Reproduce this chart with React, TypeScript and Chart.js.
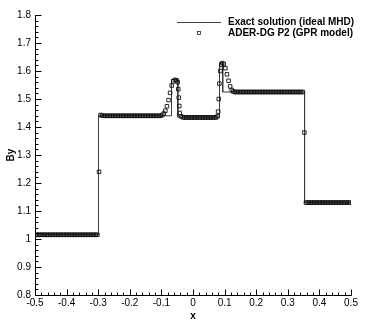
import React, { useEffect, useRef } from "react";
import { Chart, registerables } from "chart.js";
Chart.register(...registerables);

// Exact solution (ideal MHD): piecewise constant profile with jumps
const exactX = [-0.5, -0.299, -0.299, -0.068, -0.068, -0.048, -0.048, 0.084, 0.084, 0.094, 0.094, 0.353, 0.353, 0.5];
const exactY = [1.015, 1.015, 1.44, 1.44, 1.57, 1.57, 1.435, 1.435, 1.63, 1.63, 1.525, 1.525, 1.13, 1.13];

// ADER-DG P2 (GPR model) sample points
const dgX = [
  -0.4975, -0.4925, -0.4875, -0.4825, -0.4775, -0.4725, -0.4675, -0.4625, -0.4575, -0.4525,
  -0.4475, -0.4425, -0.4375, -0.4325, -0.4275, -0.4225, -0.4175, -0.4125, -0.4075, -0.4025,
  -0.3975, -0.3925, -0.3875, -0.3825, -0.3775, -0.3725, -0.3675, -0.3625, -0.3575, -0.3525,
  -0.3475, -0.3425, -0.3375, -0.3325, -0.3275, -0.3225, -0.3175, -0.3125, -0.3075, -0.3025,
  -0.2975,
  -0.2925, -0.2875, -0.2825, -0.2775, -0.2725, -0.2675, -0.2625, -0.2575, -0.2525, -0.2475,
  -0.2425, -0.2375, -0.2325, -0.2275, -0.2225, -0.2175, -0.2125, -0.2075, -0.2025, -0.1975,
  -0.1925, -0.1875, -0.1825, -0.1775, -0.1725, -0.1675, -0.1625, -0.1575, -0.1525, -0.1475,
  -0.1425, -0.1375, -0.1325, -0.1275, -0.1225, -0.1175, -0.1125, -0.1075, -0.1025,
  -0.0975, -0.0925, -0.0875, -0.0825, -0.0775, -0.0725, -0.0675, -0.0625, -0.0575, -0.0525,
  -0.0485, -0.0465, -0.045, -0.0435, -0.042, -0.0375, -0.0325,
  -0.0275, -0.0225, -0.0175, -0.0125, -0.0075, -0.0025, 0.0025, 0.0075, 0.0125, 0.0175,
  0.0225, 0.0275, 0.0325, 0.0375, 0.0425, 0.0475, 0.0525, 0.0575, 0.0625, 0.0675, 0.0725,
  0.0775, 0.0795, 0.0815, 0.0835, 0.0865, 0.0895, 0.0925, 0.0975, 0.1025, 0.1075,
  0.1125, 0.1175, 0.1225, 0.1275,
  0.1325, 0.1375, 0.1425, 0.1475, 0.1525, 0.1575, 0.1625, 0.1675, 0.1725, 0.1775,
  0.1825, 0.1875, 0.1925, 0.1975, 0.2025, 0.2075, 0.2125, 0.2175, 0.2225, 0.2275,
  0.2325, 0.2375, 0.2425, 0.2475, 0.2525, 0.2575, 0.2625, 0.2675, 0.2725, 0.2775,
  0.2825, 0.2875, 0.2925, 0.2975, 0.3025, 0.3075, 0.3125, 0.3175, 0.3225, 0.3275,
  0.3325, 0.3375, 0.3425, 0.3475,
  0.3525,
  0.3575, 0.3625, 0.3675, 0.3725, 0.3775, 0.3825, 0.3875, 0.3925, 0.3975, 0.4025,
  0.4075, 0.4125, 0.4175, 0.4225, 0.4275, 0.4325, 0.4375, 0.4425, 0.4475, 0.4525,
  0.4575, 0.4625, 0.4675, 0.4725, 0.4775, 0.4825, 0.4875, 0.4925, 0.4975,
];
const dgY = [
  1.015, 1.015, 1.015, 1.015, 1.015, 1.015, 1.015, 1.015, 1.015, 1.015,
  1.015, 1.015, 1.015, 1.015, 1.015, 1.015, 1.015, 1.015, 1.015, 1.015,
  1.015, 1.015, 1.015, 1.015, 1.015, 1.015, 1.015, 1.015, 1.015, 1.015,
  1.015, 1.015, 1.015, 1.015, 1.015, 1.015, 1.015, 1.015, 1.015, 1.015,
  1.24,
  1.443, 1.441, 1.44, 1.44, 1.44, 1.44, 1.44, 1.44, 1.44, 1.44,
  1.44, 1.44, 1.44, 1.44, 1.44, 1.44, 1.44, 1.44, 1.44, 1.44,
  1.44, 1.44, 1.44, 1.44, 1.44, 1.44, 1.44, 1.44, 1.44, 1.44,
  1.44, 1.44, 1.44, 1.44, 1.44, 1.44, 1.44, 1.44, 1.44,
  1.443, 1.448, 1.458, 1.474, 1.496, 1.522, 1.548, 1.563, 1.568, 1.567,
  1.56, 1.535, 1.505, 1.475, 1.45, 1.438, 1.435,
  1.434, 1.434, 1.434, 1.434, 1.434, 1.434, 1.434, 1.434, 1.434, 1.434,
  1.434, 1.434, 1.434, 1.434, 1.434, 1.434, 1.434, 1.434, 1.434, 1.434, 1.434,
  1.438, 1.455, 1.5, 1.555, 1.6, 1.622, 1.628, 1.625, 1.61, 1.588,
  1.565, 1.545, 1.532, 1.527,
  1.525, 1.525, 1.525, 1.525, 1.525, 1.525, 1.525, 1.525, 1.525, 1.525,
  1.525, 1.525, 1.525, 1.525, 1.525, 1.525, 1.525, 1.525, 1.525, 1.525,
  1.525, 1.525, 1.525, 1.525, 1.525, 1.525, 1.525, 1.525, 1.525, 1.525,
  1.525, 1.525, 1.525, 1.525, 1.525, 1.525, 1.525, 1.525, 1.525, 1.525,
  1.525, 1.525, 1.525, 1.525,
  1.38,
  1.13, 1.13, 1.13, 1.13, 1.13, 1.13, 1.13, 1.13, 1.13, 1.13,
  1.13, 1.13, 1.13, 1.13, 1.13, 1.13, 1.13, 1.13, 1.13, 1.13,
  1.13, 1.13, 1.13, 1.13, 1.13, 1.13, 1.13, 1.13, 1.13,
];

const legendLabels = ["Exact solution (ideal MHD)", "ADER-DG P2 (GPR model)"];
const xAxisTitle = "x";
const yAxisTitle = "By";

const FONT = "'Liberation Sans', Arial, Helvetica, sans-serif";

const overlayPlugin = {
  id: "overlay",
  afterDraw(chart: any) {
    const ctx = chart.ctx;
    const xs = chart.scales.x;
    const ys = chart.scales.y;
    const { left, top, bottom } = chart.chartArea;
    ctx.save();
    ctx.strokeStyle = "#000";
    ctx.lineWidth = 1;
    ctx.beginPath();
    // axis lines
    const ax = Math.round(left) + 0.5;
    const ay = Math.round(bottom) + 0.5;
    ctx.moveTo(ax, Math.round(top));
    ctx.lineTo(ax, ay);
    ctx.lineTo(Math.round(chart.chartArea.right) + 0.5, ay);
    // inward ticks, y
    for (let i = 0; i <= 50; i++) {
      const v = 0.8 + i * 0.02;
      const py = Math.round(ys.getPixelForValue(v)) + 0.5;
      const len = i % 5 === 0 ? 6 : 3;
      ctx.moveTo(ax, py);
      ctx.lineTo(ax + len, py);
    }
    // inward ticks, x
    for (let i = 0; i <= 50; i++) {
      const v = -0.5 + i * 0.02;
      const px = Math.round(xs.getPixelForValue(v)) + 0.5;
      const len = i % 5 === 0 ? 6 : 3;
      ctx.moveTo(px, ay);
      ctx.lineTo(px, ay - len);
    }
    ctx.stroke();

    // legend
    ctx.strokeStyle = "#444";
    ctx.beginPath();
    ctx.moveTo(177, 22.5);
    ctx.lineTo(221, 22.5);
    ctx.stroke();
    ctx.strokeStyle = "#222";
    ctx.lineWidth = 0.8;
    ctx.strokeRect(197.5, 31.5, 3, 3);
    ctx.fillStyle = "#000";
    ctx.font = "bold 10px " + FONT;
    ctx.textAlign = "left";
    ctx.textBaseline = "middle";
    ctx.fillText(legendLabels[0], 228, 22);
    ctx.fillText(legendLabels[1], 228, 33.5);
    ctx.restore();
  },
};

export default function App() {
  const ref = useRef<HTMLCanvasElement | null>(null);
  useEffect(() => {
    if (!ref.current) return;
    const exact = exactX.map((x, i) => ({ x, y: exactY[i] }));
    const dg = dgX.map((x, i) => ({ x, y: dgY[i] }));
    const fmt = (v: any) => String(Math.round(Number(v) * 10) / 10);
    const chart = new Chart(ref.current, {
      type: "scatter",
      data: {
        datasets: [
          {
            label: legendLabels[1],
            data: dg,
            showLine: false,
            pointStyle: "rect",
            pointRadius: 2.5,
            borderWidth: 0.9,
            borderColor: "#111",
            backgroundColor: "rgba(0,0,0,0)",
            order: 1,
          } as any,
          {
            label: legendLabels[0],
            data: exact,
            showLine: true,
            pointRadius: 0,
            borderWidth: 1,
            borderColor: "#3a3a3a",
            backgroundColor: "#3a3a3a",
            order: 2,
          } as any,
        ],
      },
      options: {
        animation: false,
        responsive: true,
        maintainAspectRatio: false,
        devicePixelRatio: 1,
        events: [],
        layout: { padding: { left: 0, top: 15, right: 17, bottom: 0 } },
        plugins: { legend: { display: false }, tooltip: { enabled: false } },
        scales: {
          x: {
            type: "linear",
            min: -0.5,
            max: 0.5,
            afterFit: (s: any) => {
              s.height = 32;
            },
            grid: { display: false, drawTicks: false, tickLength: 0 },
            border: { display: false },
            ticks: {
              stepSize: 0.1,
              padding: 2,
              color: "#000",
              font: { family: FONT, size: 10 },
              callback: fmt,
              maxRotation: 0,
              autoSkip: false,
            },
            title: {
              display: true,
              text: xAxisTitle,
              color: "#000",
              font: { family: FONT, size: 10, weight: "bold" },
              padding: { top: 0, bottom: 5 },
            },
          },
          y: {
            type: "linear",
            min: 0.8,
            max: 1.8,
            afterFit: (s: any) => {
              s.width = 35;
            },
            grid: { display: false, drawTicks: false, tickLength: 0 },
            border: { display: false },
            ticks: {
              stepSize: 0.1,
              padding: 4,
              color: "#000",
              font: { family: FONT, size: 10 },
              callback: fmt,
              autoSkip: false,
            },
            title: {
              display: true,
              text: yAxisTitle,
              color: "#000",
              font: { family: FONT, size: 10, weight: "bold" },
              padding: { top: 5, bottom: 0 },
            },
          },
        },
      },
      plugins: [overlayPlugin],
    } as any);
    return () => chart.destroy();
  }, []);
  return (
    <div style={{ position: "absolute", left: 0, top: 0, width: 368, height: 327, background: "#fff" }}>
      <canvas ref={ref} />
    </div>
  );
}
